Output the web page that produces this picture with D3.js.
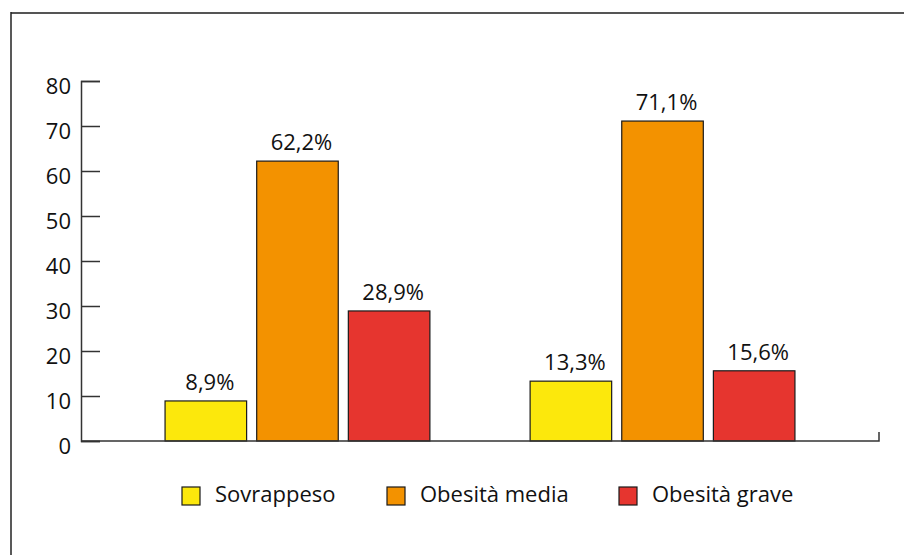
<!DOCTYPE html>
<meta charset="utf-8">
<!-- Load d3.js -->
<script src="https://d3js.org/d3.v7.min.js"></script>
<style>
  body { margin: 0; background: #fff; }
  svg text { font-family: "Open Sans", sans-serif; fill: #111; }
</style>
<div id="my_dataviz"></div>
<script>

// data
var groups = ["Gruppo 1", "Gruppo 2"];
var series = ["Sovrappeso", "Obesità media", "Obesità grave"];
var sovrappeso = [8.9, 13.3];
var obesitaMedia = [62.2, 71.1];
var obesitaGrave = [28.9, 15.6];
var yTicks = [0, 10, 20, 30, 40, 50, 60, 70, 80];
var colors = ["#FCE80C", "#F39200", "#E6352F"];

var valuesBySeries = [sovrappeso, obesitaMedia, obesitaGrave];

// flat table for the bars
var rows = [];
groups.forEach(function(g, gi) {
  series.forEach(function(s, si) {
    rows.push({group: g, serie: s, value: valuesBySeries[si][gi]});
  });
});

var width = 904, height = 555;
var plot = {left: 81, right: 879, top: 81, bottom: 441};

var svg = d3.select("#my_dataviz")
  .append("svg")
    .attr("width", width)
    .attr("height", height);

// frame (top and left border only)
svg.append("line")
  .attr("x1", 11).attr("x2", width)
  .attr("y1", 13).attr("y2", 13)
  .attr("stroke", "#555").attr("stroke-width", 2);
svg.append("line")
  .attr("x1", 11).attr("x2", 11)
  .attr("y1", 12).attr("y2", height)
  .attr("stroke", "#222").attr("stroke-width", 1.5);

// scales
var y = d3.scaleLinear()
  .domain([0, 80])
  .range([plot.bottom, plot.top]);

var x0 = d3.scalePoint()
  .domain(groups)
  .range([plot.left, plot.right])
  .padding(0.593);

var x1 = d3.scaleBand()
  .domain(series)
  .range([-137, 137])
  .paddingInner(0.11)
  .paddingOuter(0.05);

var color = d3.scaleOrdinal()
  .domain(series)
  .range(colors);

var it = d3.formatLocale({decimal: ",", thousands: ".", grouping: [3], currency: ["", "€"]});
var fmt = it.format(".1f");

// Y axis: ticks pointing inward
var yAxis = svg.append("g")
  .attr("transform", "translate(" + plot.left + ",0)")
  .call(d3.axisRight(y).tickValues(yTicks).tickSize(19).tickFormat(""));
yAxis.select(".domain").attr("stroke", "#333").attr("stroke-width", 1.5);
yAxis.selectAll(".tick line").attr("stroke", "#333").attr("stroke-width", 1.5);

svg.append("g")
  .selectAll("text")
  .data(yTicks)
  .enter()
  .append("text")
    .attr("x", plot.left - 10)
    .attr("y", function(d) { return y(d) + 5; })
    .attr("dy", "0.35em")
    .attr("text-anchor", "end")
    .style("font-size", "22px")
    .text(function(d) { return d; });

// bars
var bars = svg.append("g")
  .selectAll("rect")
  .data(rows)
  .enter()
  .append("rect")
    .attr("x", function(d) { return x0(d.group) + x1(d.serie); })
    .attr("y", function(d) { return y(d.value); })
    .attr("width", x1.bandwidth())
    .attr("height", function(d) { return y(0) - y(d.value); })
    .attr("fill", function(d) { return color(d.serie); })
    .attr("stroke", "#1a1a1a")
    .attr("stroke-width", 1.2);

// value labels
svg.append("g")
  .selectAll("text")
  .data(rows)
  .enter()
  .append("text")
    .attr("x", function(d) { return x0(d.group) + x1(d.serie) + x1.bandwidth() / 2 + 4; })
    .attr("y", function(d) { return y(d.value) - 11; })
    .attr("text-anchor", "middle")
    .style("font-size", "22px")
    .text(function(d) { return fmt(d.value) + "%"; });

// X axis line with small end tick
svg.append("path")
  .attr("d", "M" + plot.left + "," + y(0) + "H" + plot.right + "V" + (y(0) - 9))
  .attr("fill", "none")
  .attr("stroke", "#333")
  .attr("stroke-width", 1.5);

// legend
var legendX = [182, 387, 619];
var legend = svg.append("g")
  .selectAll("g")
  .data(series)
  .enter()
  .append("g")
    .attr("transform", function(d, i) { return "translate(" + legendX[i] + ",487)"; });

legend.append("rect")
  .attr("width", 18)
  .attr("height", 18)
  .attr("fill", function(d) { return color(d); })
  .attr("stroke", "#1a1a1a")
  .attr("stroke-width", 1.2);

legend.append("text")
  .attr("x", 33)
  .attr("y", 15)
  .style("font-size", "22px")
  .text(function(d) { return d; });

</script>
